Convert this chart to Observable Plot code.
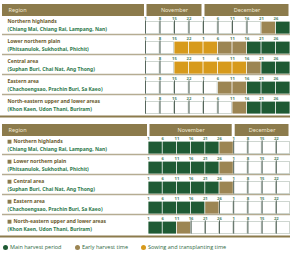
<!DOCTYPE html>
<html><head><meta charset="utf-8">
<script src="https://cdn.jsdelivr.net/npm/d3@7"></script>
<script src="https://cdn.jsdelivr.net/npm/@observablehq/plot@0.6"></script>
<style>
body{margin:0;background:#fff;font-family:"Open Sans",sans-serif;width:291px;height:253px;overflow:hidden}
svg{display:block}
#legend{display:flex;align-items:center;font-size:5.5px;color:#2f6b45;padding:3px 0 0 3px}
#legend .it{display:flex;align-items:center}
#legend .sw{width:5px;height:5px;border-radius:50%;margin-right:2px}
</style>
</head><body>
<div id="c"></div>
<script>
const headerRegion = "Region";
const monthNames = ["November", "December"];
const regionNames = ["Northern highlands", "Lower northern plain", "Central area", "Eastern area", "North-eastern upper and lower areas"];
const regionNotes = ["(Chiang Mai, Chiang Rai, Lampang, Nan)", "(Phitsanulok, Sukhothai, Phichit)", "(Suphan Buri, Chai Nat, Ang Thong)", "(Chachoengsao, Prachin Buri, Sa Kaeo)", "(Khon Kaen, Udon Thani, Buriram)"];
// status: 0 none, 1 main harvest, 2 early harvest, 3 sowing/transplanting
const topColumnMonth = [0, 0, 0, 0, 1, 1, 1, 1, 1, 1];
const topColumnDays = ["1", "8", "15", "22", "1", "6", "11", "16", "21", "26"];
const topStatus = [
  [0, 0, 0, 0, 0, 0, 0, 0, 2, 1],
  [0, 0, 3, 3, 3, 2, 2, 1, 1, 1],
  [0, 0, 3, 3, 3, 3, 3, 2, 1, 1],
  [0, 0, 0, 0, 0, 2, 2, 1, 1, 1],
  [0, 0, 0, 0, 0, 0, 2, 1, 1, 1]
];
const bottomColumnMonth = [0, 0, 0, 0, 0, 0, 1, 1, 1, 1];
const bottomColumnDays = ["1", "6", "11", "16", "21", "26", "1", "8", "15", "22"];
const bottomStatus = [
  [1, 1, 1, 1, 1, 2, 0, 0, 0, 0],
  [1, 1, 1, 1, 1, 2, 0, 0, 0, 0],
  [1, 1, 1, 1, 1, 2, 0, 0, 0, 0],
  [1, 1, 1, 1, 2, 0, 0, 0, 0, 0],
  [1, 1, 2, 0, 0, 0, 0, 0, 0, 0]
];
const legendLabels = ["Main harvest period", "Early harvest time", "Sowing and transplanting time"];
const legendStatus = [1, 2, 3];
const statusColors = ["#ffffff", "#1f5a34", "#9c8553", "#d79a1c"];

function drawTable(status, colMonth, colDays, gridLeft, icon) {
  const n = colMonth.length, m = status.length;
  const xmin = -gridLeft / ((290 - gridLeft) / n);
  const cells = status.flatMap((row, r) => row.map((s, c) => ({r, c, s, day: colDays[c]})));
  const months = monthNames.map((name, k) => ({name, c1: colMonth.indexOf(k), c2: colMonth.lastIndexOf(k) + 1}));
  const rows = regionNames.map((name, r) => ({r, name, note: regionNotes[r]}));
  const hdr = "#8c7b4c", hdrText = "#f1e9d2";
  return Plot.plot({
    width: 291, height: 120, margin: 0,
    x: {domain: [xmin, n], range: [0, 290], axis: null},
    y: {domain: [-0.6, m], range: [4, 116], axis: null},
    color: {type: "identity"},
    marks: [
      Plot.rect([0], {x1: xmin, x2: 0, y1: -0.6, y2: 0, fill: hdr, insetLeft: 2, insetRight: 1}),
      Plot.rect(months, {x1: "c1", x2: "c2", y1: -0.6, y2: 0, fill: hdr, insetLeft: 1.5, insetRight: 1.5}),
      Plot.text([headerRegion], {x: xmin, y: -0.3, dx: 8, textAnchor: "start", fill: hdrText, fontSize: 5.5}),
      Plot.text(months, {x: d => (d.c1 + d.c2) / 2, y: -0.3, text: "name", fill: hdrText, fontSize: 5.5}),
      Plot.ruleY(d3.range(m - 1), {y: r => r + 0.9, x1: xmin, x2: n, stroke: "#b5ac92", strokeWidth: 1.5, insetLeft: 2}),
      Plot.ruleY([m], {x1: xmin, x2: n, stroke: hdr, strokeWidth: 2}),
      Plot.rect(cells, {x1: "c", x2: d => d.c + 1, y1: d => d.r + 0.28, y2: d => d.r + 0.88,
        fill: d => statusColors[d.s], stroke: d => d.s ? "none" : "#c3ccc5", strokeWidth: 0.8, insetLeft: 0.4, insetRight: 0.4}),
      Plot.ruleX(cells.filter(d => !d.s), {x: "c", y1: d => d.r + 0.22, y2: d => d.r + 0.88, stroke: "#56665c", strokeWidth: 1}),
      Plot.text(cells, {x: "c", y: d => d.r + 0.12, text: "day", fill: "#4f8264", fontSize: 4.2, fontWeight: "bold"}),
      icon ? Plot.dot(rows, {x: xmin, y: d => d.r + 0.26, dx: 9, symbol: "square", r: 2.2, fill: hdr}) : null,
      Plot.text(rows, {x: xmin, y: d => d.r + 0.26, text: "name", dx: icon ? 13 : 7, textAnchor: "start", fill: "#6a5a2c", fontWeight: "bold", fontSize: 5}),
      Plot.text(rows, {x: xmin, y: d => d.r + 0.62, text: "note", dx: 7, textAnchor: "start", fill: "#2f7a4c", fontWeight: "bold", fontSize: 5})
    ]
  });
}

const c = document.getElementById("c");
c.append(drawTable(topStatus, topColumnMonth, topColumnDays, 145, false));
c.append(drawTable(bottomStatus, bottomColumnMonth, bottomColumnDays, 148, true));
const lg = document.createElement("div");
lg.id = "legend";
const legendWidths = [72, 66];
legendLabels.forEach((label, i) => {
  const it = document.createElement("div");
  it.className = "it";
  if (legendWidths[i]) it.style.width = legendWidths[i] + "px";
  const sw = document.createElement("div");
  sw.className = "sw";
  sw.style.background = statusColors[legendStatus[i]];
  const t = document.createElement("span");
  t.textContent = label;
  it.append(sw, t);
  lg.append(it);
});
c.append(lg);
</script>
</body></html>
